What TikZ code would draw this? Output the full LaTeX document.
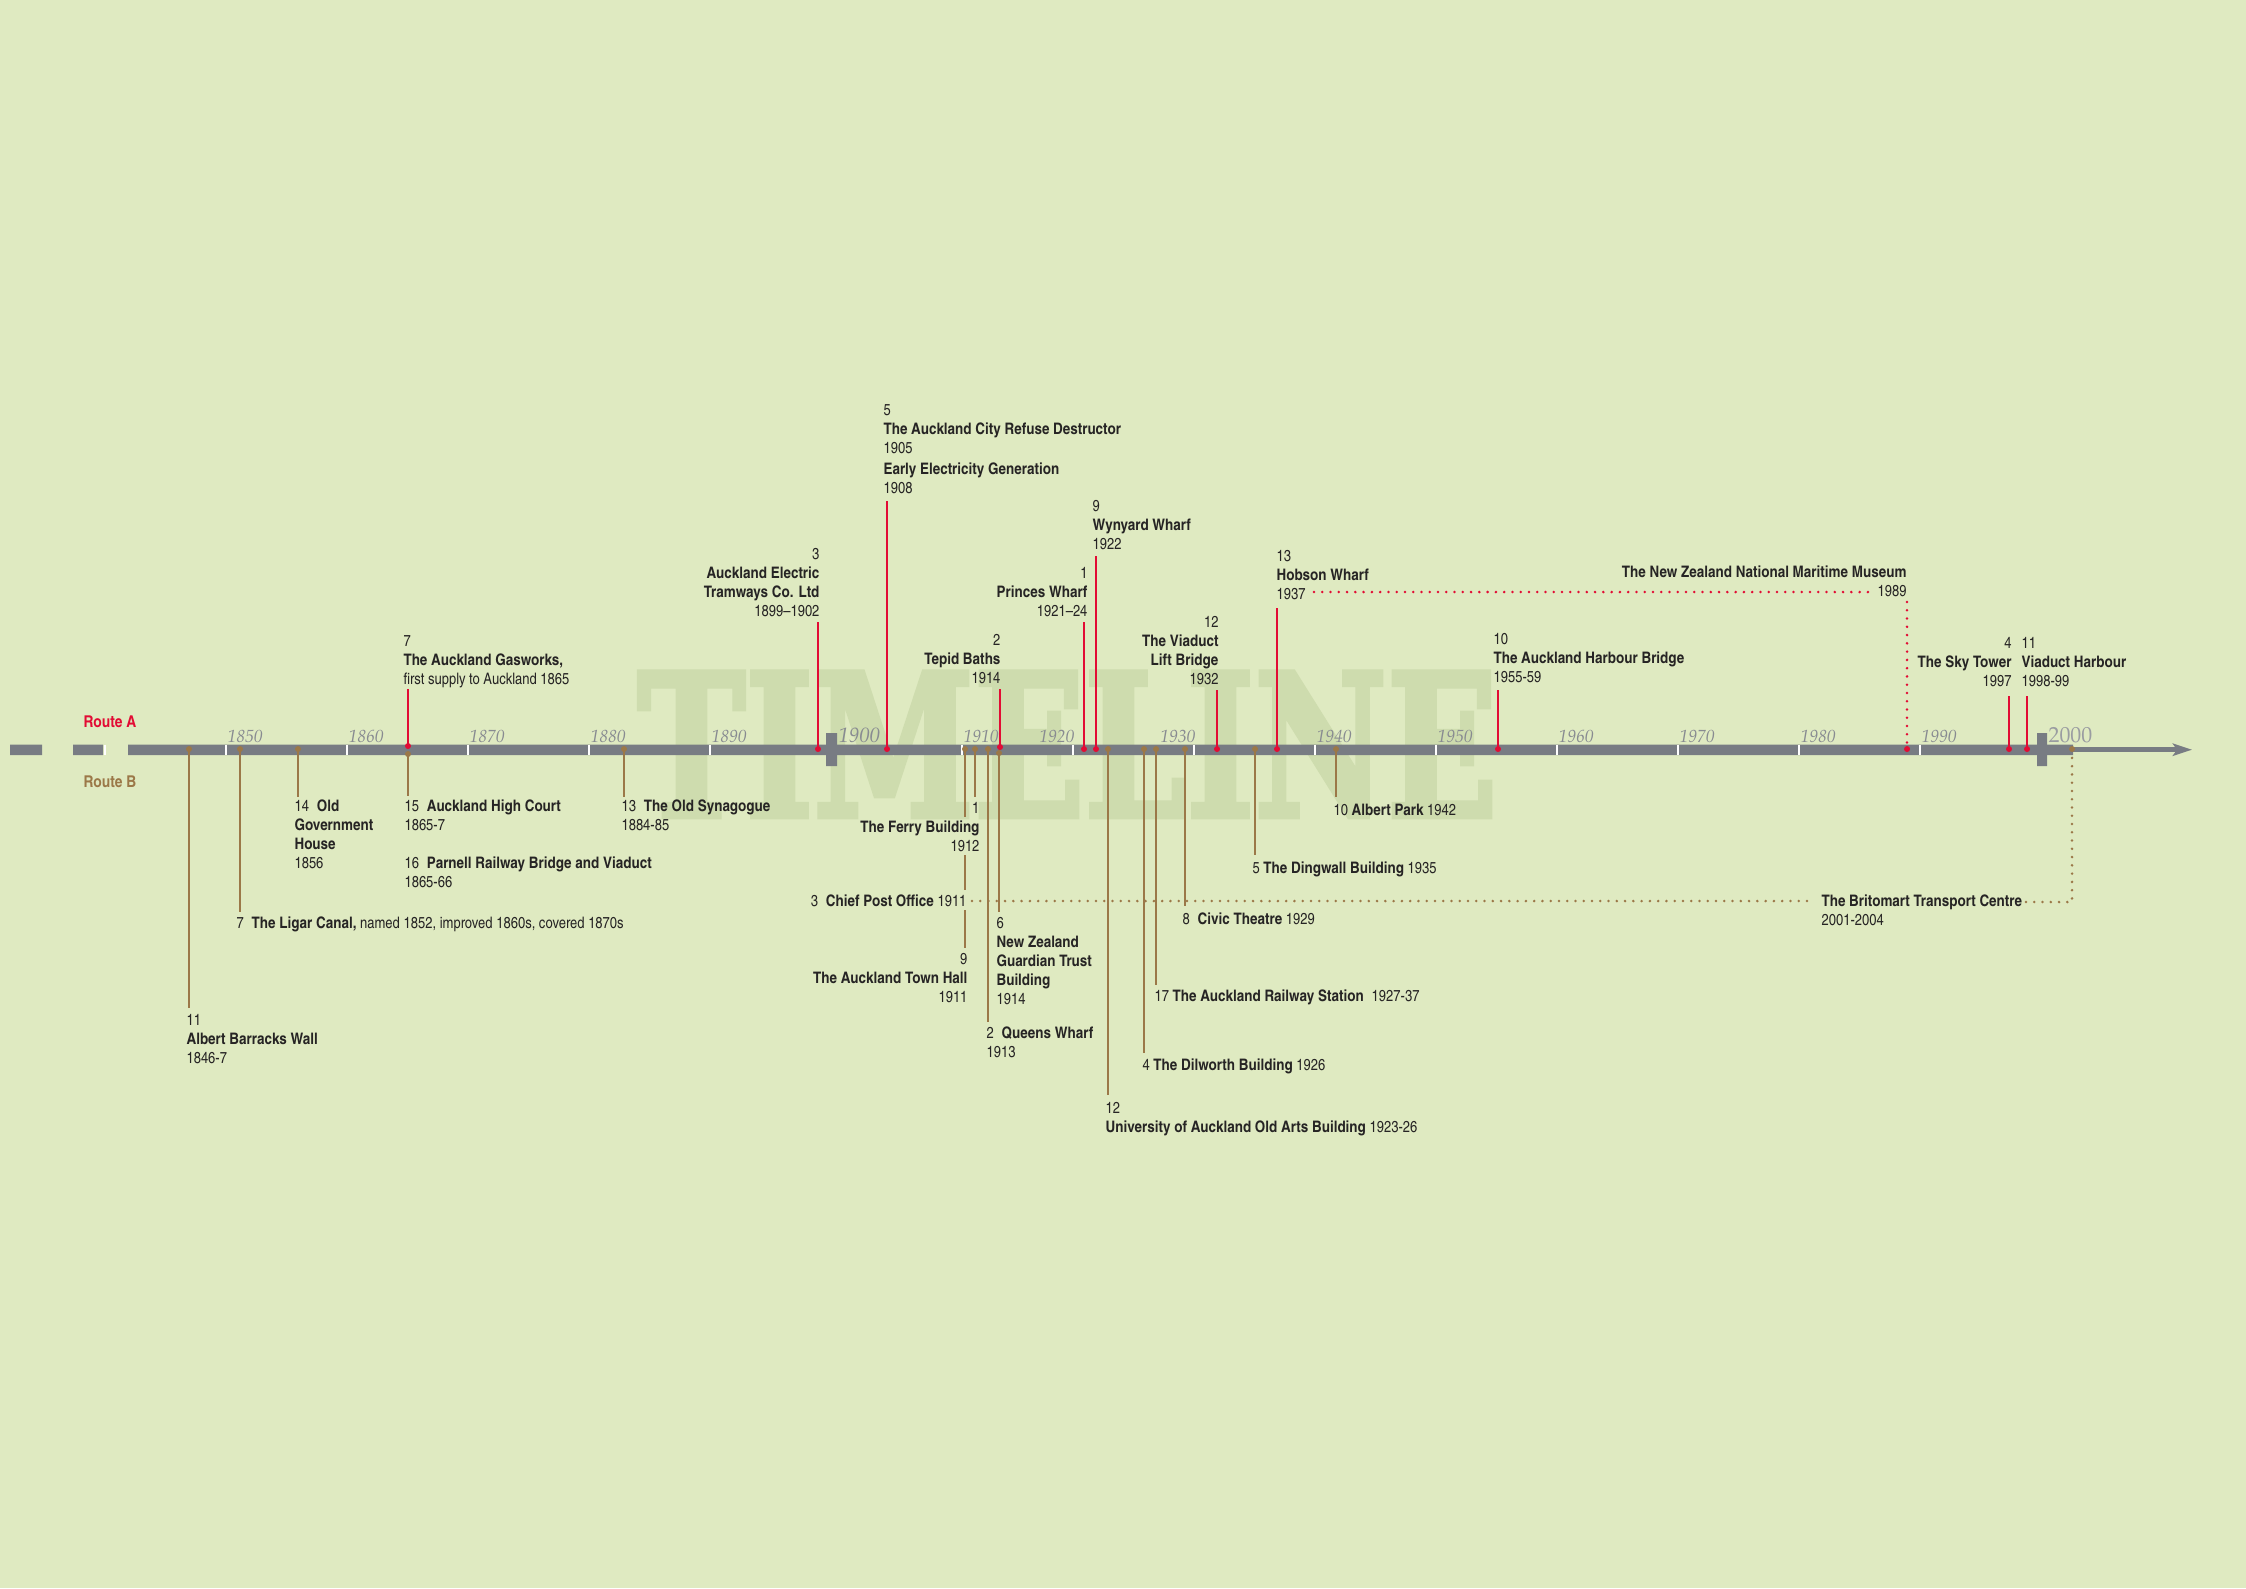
\documentclass[tikz,border=0pt]{standalone}
\usepackage{fontspec}
\setmainfont{texgyreheroscn}[Extension=.otf, UprightFont=*-regular, BoldFont=*-bold, ItalicFont=*-italic, BoldItalicFont=*-bolditalic, BoldFeatures={FakeStretch=1.035}]
\newfontfamily\yearfont{texgyrepagella}[Extension=.otf, UprightFont=*-regular, ItalicFont=*-italic]
\newfontfamily\markfont{DejaVu Serif}[FakeBold=3]
\usepackage{xcolor}
\usepackage{graphicx}
\usepackage{tikz}
\usetikzlibrary{arrows.meta}

\definecolor{bgcol}{RGB}{223,234,193}
\definecolor{markcol}{RGB}{206,220,174}
\definecolor{barcol}{RGB}{120,124,131}
\definecolor{colA}{RGB}{226,12,52}
\definecolor{colB}{RGB}{155,120,72}
\definecolor{txtcol}{RGB}{38,36,36}
\definecolor{yearcol}{RGB}{136,139,145}
\newcommand\tstrut{\rule{0pt}{5pt}}

\begin{document}
\begin{tikzpicture}[x=0.375pt,y=0.375pt,yscale=-1,xscale=1,
    lbl/.style={font=\fontsize{5.95}{7.125}\selectfont, text=txtcol, inner sep=0pt},
    lineA/.style={draw=colA, line width=0.9pt},
    lineB/.style={draw=colB, line width=0.75pt},
    dotsA/.style={draw=colA, line width=1.05pt, line cap=round, dash pattern=on 0pt off 3.1pt},
    dotsB/.style={draw=colB, line width=1.05pt, line cap=round, dash pattern=on 0pt off 3.1pt},
    yr/.style={font=\yearfont\itshape\fontsize{6.6}{7}\selectfont, text=yearcol, inner sep=0pt},
    routelbl/.style={font=\bfseries\fontsize{6.1}{7}\selectfont, inner sep=0pt, anchor=base west}]
    \fill[bgcol] (0,0) rectangle (2246,1588);
    \useasboundingbox (0,0) rectangle (2246,1588);

    % watermark
    \node[anchor=south west, inner sep=0pt, text=markcol] (mark) at (637,817) {\resizebox{322.5pt}{54pt}{\markfont\bfseries TIMELINE}};

    % the bar
    \fill[barcol] (10,744.5) rectangle (42,755) (73,744.5) rectangle (103,755) (128,744.5) rectangle (2073,755);
    \fill[barcol] (826,733) rectangle (837,766) (2037,733) rectangle (2047,766);
    \coordinate (barend) at (2072,749.7);
    \coordinate (arrowtip) at (2192,749.7);
    \draw[barcol, line width=1.9pt, -{Stealth[length=7.2pt,width=4.6pt,inset=1.6pt]}] (barend) -- (arrowtip);
    \foreach \x in {104.5,226,347,468,589,710,962,1073,1194,1315,1436,1557,1678,1799,1920}
        \draw[white, line width=0.75pt] (\x,744.5) -- (\x,755);

    % years
    \foreach \y/\x in {1850/227,1860/348,1870/469,1880/590,1890/711,1910/963,1940/1316,1950/1437,1960/1558,1970/1679,1980/1800,1990/1921}
        \node[yr, anchor=base west] (y\y) at (\x,742) {\y};
    \node[yr, anchor=base east] (y1920) at (1075,742) {1920};
    \node[yr, anchor=base east] (y1930) at (1196,742) {1930};
    \node[yr, anchor=base west, font=\yearfont\itshape\fontsize{7.8}{8}\selectfont] (y1900) at (838,742.5) {1900};
    \node[yr, anchor=base west, font=\yearfont\fontsize{8.2}{9}\selectfont, text=yearcol!85!white] (y2000) at (2048,742.5) {2000};

    \node[routelbl, text=colA] (routeA) at (83,727) {Route A};
    \node[routelbl, text=colB] (routeB) at (83,787) {Route B};

    % route A
    \foreach \n/\x/\y/\t in {gas/408/746/689, tram/818/749/622, refuse/887/749/501, tepid/1000/747/689, princes/1084/749/622, wynyard/1096/749/556, lift/1217/749/690, hobson/1277/749/608, bridge/1498/749/690, sky/2009/749/696, vharb/2027/749/696}
    {
        \coordinate (\n) at (\x,\y);
        \coordinate (\n top) at (\x,\t);
        \draw[lineA] (\n) -- (\n top);
    }
    \coordinate (museum) at (1907,749);
    \coordinate (museum top) at (1907,602);
    \coordinate (hobson dots) at (1314,592);
    \coordinate (museum dots) at (1871,592);
    \draw[dotsA] (hobson dots) -- (museum dots);
    \draw[dotsA] (museum top) -- (museum);

    % route B
    \foreach \n/\x/\y/\b in {barracks/189/749/1008, ligar/240/749/912, govt/298/749/797, court/408/754/796, synagogue/624/749/797, ferry/975/749/797, queens/988/749/1022, guardian/999/753/912, arts/1108/749/1095, dilworth/1144/749/1053, railway/1156/749/985, civic/1185/749/906, dingwall/1255/749/855, park/1336/749/797}
    {
        \coordinate (\n) at (\x,\y);
        \coordinate (\n end) at (\x,\b);
        \draw[lineB] (\n) -- (\n end);
    }
    \coordinate (townhall) at (965,749);
    \coordinate (townhall end) at (965,948);
    \draw[lineB] (townhall) -- (965,817) (965,855) -- (965,890) (965,910) -- (townhall end);
    \coordinate (britomart) at (2072,749);
    \coordinate (post dots) at (972,901);
    \coordinate (brit dots) at (1815,901);
    \coordinate (brit corner) at (2072,902);
    \draw[dotsB] (post dots) -- (brit dots);
    \draw[dotsB] (2026,902) -- (brit corner) -- (britomart);

    % dots on the bar
    \foreach \n in {barracks,ligar,govt,court,synagogue,townhall,ferry,queens,guardian,arts,dilworth,railway,civic,dingwall,park,britomart}
        \fill[colB] (\n) circle (3);
    \foreach \n in {gas,tram,refuse,tepid,princes,wynyard,lift,hobson,bridge,museum,sky,vharb}
        \fill[colA] (\n) circle (3);

    % labels above
    \node[lbl, anchor=north west, align=left] (l-gas) at (403,633) {\tstrut 7\\ \textbf{The Auckland Gasworks,}\\ first supply to Auckland 1865};
    \node[lbl, anchor=north east, align=right] (l-tram) at (820,546) {\tstrut 3\\ \textbf{Auckland Electric}\\ \textbf{Tramways Co. Ltd}\\ 1899--1902};
    \node[lbl, anchor=north west, align=left] (l-refuse) at (883,402) {\tstrut 5\\ \textbf{The Auckland City Refuse Destructor}\\ 1905\\[0.75pt] \textbf{Early Electricity Generation}\\ 1908};
    \node[lbl, anchor=north east, align=right] (l-tepid) at (1001,632) {\tstrut 2\\ \textbf{Tepid Baths}\\ 1914};
    \node[lbl, anchor=north east, align=right] (l-princes) at (1088,565) {\tstrut 1\\ \textbf{Princes Wharf}\\ 1921--24};
    \node[lbl, anchor=north west, align=left] (l-wynyard) at (1092,498) {\tstrut 9\\ \textbf{Wynyard Wharf}\\ 1922};
    \node[lbl, anchor=north east, align=right] (l-lift) at (1219,614) {\tstrut 12\\ \textbf{The Viaduct}\\ \textbf{Lift Bridge}\\ 1932};
    \node[lbl, anchor=north west, align=left] (l-hobson) at (1276,548) {\tstrut 13\\ \textbf{Hobson Wharf}\\ 1937};
    \node[lbl, anchor=north east, align=right] (l-museum) at (1907,564) {\tstrut\textbf{The New Zealand National Maritime Museum}\\ 1989};
    \node[lbl, anchor=north west, align=left] (l-bridge) at (1493,631) {\tstrut 10\\ \textbf{The Auckland Harbour Bridge}\\ 1955-59};
    \node[lbl, anchor=north east, align=right] (l-sky) at (2012,635) {\tstrut 4\\ \textbf{The Sky Tower}\\ 1997};
    \node[lbl, anchor=north west, align=left] (l-vharb) at (2021,635) {\tstrut 11\\ \textbf{Viaduct Harbour}\\ 1998-99};

    % labels below
    \node[lbl, anchor=north west, align=left] (l-barracks) at (186,1012) {\tstrut 11\\ \textbf{Albert Barracks Wall}\\ 1846-7};
    \node[lbl, anchor=north west] (l-ligar) at (236,915) {\tstrut 7\enspace\textbf{The Ligar Canal,} named 1852, improved 1860s, covered 1870s};
    \node[lbl, anchor=north west, align=left] (l-govt) at (294,798) {\tstrut 14\enspace\textbf{Old}\\ \textbf{Government}\\ \textbf{House}\\ 1856};
    \node[lbl, anchor=north west, align=left] (l-court) at (404,798) {\tstrut 15\enspace\textbf{Auckland High Court}\\ 1865-7};
    \node[lbl, anchor=north west, align=left] (l-parnell) at (404,855) {\tstrut 16\enspace\textbf{Parnell Railway Bridge and Viaduct}\\ 1865-66};
    \node[lbl, anchor=north west, align=left] (l-synagogue) at (621,798) {\tstrut 13\enspace\textbf{The Old Synagogue}\\ 1884-85};
    \node[lbl, anchor=north east, align=right] (l-ferry) at (980,800) {\tstrut 1\\ \textbf{The Ferry Building}\\ 1912};
    \node[lbl, anchor=north east, align=right] (l-townhall) at (968,951) {\tstrut 9\\ \textbf{The Auckland Town Hall}\\ 1911};
    \node[lbl, anchor=north east] (l-post) at (967,893) {\tstrut 3\enspace\textbf{Chief Post Office} 1911};
    \node[lbl, anchor=north west, align=left] (l-queens) at (986,1025) {\tstrut 2\enspace\textbf{Queens Wharf}\\ 1913};
    \node[lbl, anchor=north west, align=left] (l-guardian) at (996,915) {\tstrut 6\\ \textbf{New Zealand}\\ \textbf{Guardian Trust}\\ \textbf{Building}\\ 1914};
    \node[lbl, anchor=north west, align=left] (l-arts) at (1105,1100) {\tstrut 12\\ \textbf{University of Auckland Old Arts Building} 1923-26};
    \node[lbl, anchor=north west] (l-dilworth) at (1142,1057) {\tstrut 4 \textbf{The Dilworth Building} 1926};
    \node[lbl, anchor=north west] (l-railway) at (1154,988) {\tstrut 17 \textbf{The Auckland Railway Station}\enspace 1927-37};
    \node[lbl, anchor=north west] (l-civic) at (1182,911) {\tstrut 8\enspace\textbf{Civic Theatre} 1929};
    \node[lbl, anchor=north west] (l-dingwall) at (1252,860) {\tstrut 5 \textbf{The Dingwall Building} 1935};
    \node[lbl, anchor=north west] (l-park) at (1333,802) {\tstrut 10 \textbf{Albert Park} 1942};
    \node[lbl, anchor=north west, align=left] (l-britomart) at (1821,893) {\tstrut\textbf{The Britomart Transport Centre}\\ 2001-2004};
\end{tikzpicture}
\end{document}
